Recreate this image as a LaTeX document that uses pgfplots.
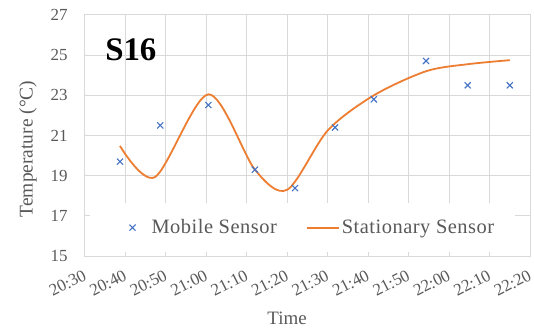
\documentclass[border=0pt]{standalone}
\usepackage{pgfplots}
\pgfplotsset{compat=1.18}
\usepackage{fontspec}
\setmainfont{Liberation Serif}
\newfontfamily\legfont[LetterSpace=2.5]{Liberation Serif}
\definecolor{mob}{HTML}{4472C4}
\definecolor{sta}{HTML}{ED7D31}
\definecolor{gridc}{HTML}{D9D9D9}
\definecolor{txt}{HTML}{595959}
\begin{document}
\begin{tikzpicture}
\useasboundingbox (-85bp,-79bp) rectangle (449bp,256bp);
\begin{axis}[
  at={(0,0)}, anchor=south west,
  scale only axis, width=445bp, height=241bp,
  xmin=0, xmax=110, ymin=15, ymax=27,
  xtick={0,10,...,110},
  xticklabels={20:30,20:40,20:50,21:00,21:10,21:20,21:30,21:40,21:50,22:00,22:10,22:20},
  ytick={15,17,...,27},
  grid=major,
  major grid style={gridc, line width=1bp},
  axis line style={gridc, line width=1bp},
  major tick length=0pt,
  tick label style={text=txt, font=\fontsize{17}{20}\selectfont},
  xticklabel style={font=\fontsize{17}{20}\selectfont, rotate=27, anchor=north east, yshift=-7bp, xshift=-5bp},
  /pgf/number format/assume math mode=true,
  yticklabel style={anchor=east, xshift=-14bp},
  xlabel={Time},
  xlabel style={at={(axis description cs:0.454,-0.257)}, anchor=center, font=\fontsize{19}{22}\selectfont, text=txt},
  ylabel={Temperature (°C)},
  ylabel style={at={(axis description cs:-0.128,0.444)}, anchor=center, rotate=0, font=\fontsize{19.5}{22}\selectfont, text=txt},
  legend image code/.code={\draw[mark repeat=2,mark phase=2,#1] plot coordinates {(0bp,0bp) (16bp,0bp) (32bp,0bp)};},
  legend style={at={(axis description cs:0.512,0.118)}, anchor=center, draw=none, fill=none,
    font=\legfont\fontsize{20.5}{23}\selectfont, legend columns=2,
    nodes={inner xsep=2bp},
    /tikz/every even column/.append style={column sep=27bp}},
]
\fill[white] (axis description cs:0.0112,0.0166) rectangle (axis description cs:0.966,0.22);
\node[font=\fontsize{33}{36}\selectfont\bfseries, text=black] at (axis description cs:0.103,0.857) {S16};
\addplot[only marks, mark=x, mark size=4.3bp, mob, line width=1.1bp, forget plot] coordinates {
 (8.65,19.7) (18.6,21.5) (30.5,22.52) (42,19.3) (51.9,18.38)
 (61.8,21.4) (71.4,22.8) (84.3,24.71) (94.6,23.5) (105,23.5)
};
\addplot[sta, line width=1.8bp, smooth, no marks, forget plot] coordinates {
 (8.65,20.48) (17.3,18.93) (30.5,23.05) (42,19.3) (50,18.3)
 (60,21.25) (71.4,23.0) (84.3,24.2) (94.6,24.55) (105,24.75)
};
\addlegendimage{only marks, mark=x, mark size=4.3bp, color=mob, line width=1.1bp}
\addlegendentry{\hspace{14bp}\textcolor{txt}{Mobile Sensor}}
\addlegendimage{color=sta, line width=2bp, no marks}
\addlegendentry{\textcolor{txt}{Stationary Sensor}}
\end{axis}
\end{tikzpicture}
\end{document}
